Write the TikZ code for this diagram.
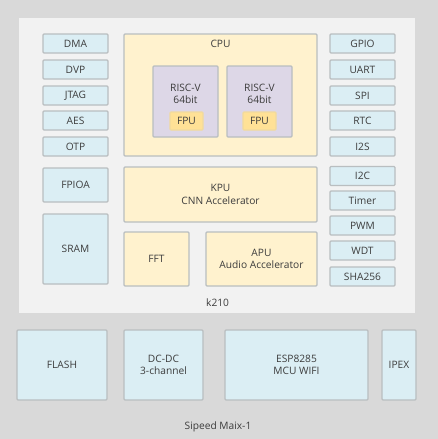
\documentclass[tikz,border=0pt]{standalone}
\usepackage{fontspec}
\setmainfont{Open Sans}

\definecolor{outerbg}{RGB}{217,217,217}
\definecolor{innerbg}{RGB}{242,242,242}
\definecolor{periph}{RGB}{219,238,244}
\definecolor{core}{RGB}{255,242,206}
\definecolor{riscv}{RGB}{221,215,231}
\definecolor{fpu}{RGB}{255,225,150}
\definecolor{edge}{RGB}{185,190,192}
\definecolor{txt}{RGB}{60,60,60}

\begin{document}
\begin{tikzpicture}[x=1pt,y=1pt,yscale=-1,xscale=1,
	every node/.style={text=txt,font=\fontsize{10.2}{12.5}\selectfont,align=center,inner sep=0pt},
	blk/.style={draw=edge,line width=1.3pt,rounded corners=1pt},
	pbox/.style={blk,fill=periph,minimum width=65,minimum height=19},
	cbox/.style={blk,fill=core},
	rbox/.style={blk,fill=riscv,minimum width=65,minimum height=71},
	fbox/.style={blk,fill=fpu,draw=fpu!80!edge,minimum width=33,minimum height=18}]
	\useasboundingbox (0,0) rectangle (438,439);
	\fill [outerbg] (0,0) rectangle (438,439);
	\fill [innerbg] (19,18) rectangle (415,313);
	% left peripherals
	\node [pbox] (dma) at (75.5,43.5) {DMA};
	\node [pbox] (dvp) at (75.5,69.5) {DVP};
	\node [pbox] (jtag) at (75.5,95.5) {JTAG};
	\node [pbox] (aes) at (75.5,120.5) {AES};
	\node [pbox] (otp) at (75.5,146.5) {OTP};
	\node [pbox,minimum height=34] (fpioa) at (75.5,185) {FPIOA};
	\node [pbox,minimum height=70] (sram) at (75.5,249) {SRAM};
	% right peripherals
	\node [pbox] (gpio) at (362.5,43.5) {GPIO};
	\node [pbox] (uart) at (362.5,69.5) {UART};
	\node [pbox] (spi) at (362.5,95.5) {SPI};
	\node [pbox] (rtc) at (362.5,120.5) {RTC};
	\node [pbox] (i2s) at (362.5,146.5) {I2S};
	\node [pbox] (i2c) at (362.5,176) {I2C};
	\node [pbox] (timer) at (362.5,200.5) {Timer};
	\node [pbox] (pwm) at (362.5,225.5) {PWM};
	\node [pbox] (wdt) at (362.5,250.5) {WDT};
	\node [pbox] (sha) at (362.5,276.5) {SHA256};
	% cores
	\node [cbox,minimum width=193,minimum height=122] (cpu) at (220.5,95) {};
	\node (cpulbl) at (220.5,44) {CPU};
	\node [rbox] (core1) at (185.5,101.5) {};
	\node (core1lbl) at (185.5,94) {RISC-V\\64bit};
	\node [fbox] (fpu1) at (186.5,121) {FPU};
	\node [rbox] (core2) at (259.5,101.5) {};
	\node (core2lbl) at (259.5,94) {RISC-V\\64bit};
	\node [fbox] (fpu2) at (259.5,121) {FPU};
	\node [cbox,minimum width=193,minimum height=55] (kpu) at (220.5,194.5) {KPU\\CNN Accelerator};
	\node [cbox,minimum width=65,minimum height=54] (fft) at (156.5,259) {FFT};
	\node [cbox,minimum width=111,minimum height=54] (apu) at (261.5,259) {APU\\Audio Accelerator};
	\node [anchor=west] (k210) at (206,303) {k210};
	% board parts
	\node [pbox,minimum width=90,minimum height=70] (flash) at (62,365) {FLASH};
	\node [pbox,minimum width=79,minimum height=70] (dcdc) at (163.5,365) {DC-DC\\3-channel};
	\node [pbox,minimum width=143,minimum height=70] (esp) at (296.5,365) {ESP8285\\MCU WIFI};
	\node [pbox,minimum width=34,minimum height=70] (ipex) at (399,365) {IPEX};
	\node (board) at (218,427) {Sipeed Maix-1};
\end{tikzpicture}
\end{document}
